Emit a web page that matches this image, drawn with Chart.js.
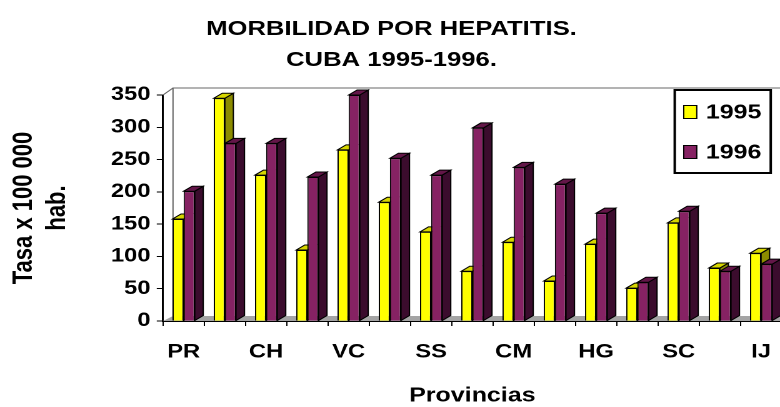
<!DOCTYPE html>
<html>
<head>
<meta charset="utf-8">
<script src="https://cdn.jsdelivr.net/npm/chart.js@4/dist/chart.umd.min.js"></script>
<style>
  html, body { margin: 0; padding: 0; background: #fff; overflow: hidden; }
  /* the original picture is stretched sideways, so the chart is drawn narrow and widened */
  #wrap { width: 632px; height: 407px; transform: scaleX(1.25); transform-origin: 0 0; }
</style>
</head>
<body>
<div id="wrap"><canvas id="chart" width="632" height="407"></canvas></div>
<script>
const provincias = ['PR', 'LH', 'CH', 'MT', 'VC', 'CF', 'SS', 'CA', 'CM', 'LT', 'HG', 'GR', 'SC', 'GT', 'IJ'];
const tasa1995   = [158, 345, 226, 110, 265, 184, 138, 77, 122, 62, 119, 51, 152, 82, 105];
const tasa1996   = [201, 275, 275, 223, 350, 252, 226, 299, 238, 212, 167, 60, 170, 77, 88];
const anios      = ['1995', '1996'];
const titulo     = ['MORBILIDAD POR HEPATITIS.', 'CUBA 1995-1996.'];

const FONT = '"Liberation Sans", Arial, sans-serif';
const DX = 6.8, DY = 5;   // depth of the 3d columns

function poly(ctx, pts, fill) {
    ctx.beginPath();
    ctx.moveTo(pts[0][0], pts[0][1]);
    for (let i = 1; i < pts.length; i++) ctx.lineTo(pts[i][0], pts[i][1]);
    ctx.closePath();
    ctx.fillStyle = fill;
    ctx.fill();
    ctx.stroke();
}

// floor, back wall and the side / top faces of every column
const caras3d = {
    id: 'caras3d',
    beforeDatasetsDraw(chart) {
        const { ctx, chartArea: a } = chart;
        ctx.save();
        ctx.fillStyle = '#a4a4a4';
        ctx.beginPath();
        ctx.moveTo(a.left, a.bottom);
        ctx.lineTo(a.left + 8, a.bottom - 5);
        ctx.lineTo(a.right + 20, a.bottom - 5);
        ctx.lineTo(a.right, a.bottom);
        ctx.closePath();
        ctx.fill();

        ctx.strokeStyle = '#666';
        ctx.lineWidth = 1;
        ctx.beginPath();
        ctx.moveTo(a.left + 8, a.bottom - 5);
        ctx.lineTo(a.left + 8, a.top - 7);
        ctx.lineTo(a.right + 20, a.top - 7);
        ctx.moveTo(a.left, a.top);
        ctx.lineTo(a.left + 8, a.top - 7);
        ctx.stroke();

        ctx.strokeStyle = '#000';
        chart.data.datasets.forEach((ds, di) => {
            chart.getDatasetMeta(di).data.forEach(bar => {
                const { x, y, base, width } = bar.getProps(['x', 'y', 'base', 'width'], true);
                const x0 = x - width / 2, x1 = x + width / 2;
                poly(ctx, [[x1, y], [x1 + DX, y - DY], [x1 + DX, base - DY], [x1, base]], ds.sideColor);
                poly(ctx, [[x0, y], [x0 + DX, y - DY], [x1 + DX, y - DY], [x1, y]], ds.topColor);
            });
        });
        ctx.restore();
    }
};

// boxed legend inside the plot, top right
const leyenda = {
    id: 'leyenda',
    afterDraw(chart) {
        const { ctx, chartArea: a } = chart;
        const left = a.right - 85.6, top = a.top - 5;
        ctx.save();
        ctx.fillStyle = '#fff';
        ctx.fillRect(left, top, 76.8, 83);
        ctx.strokeStyle = '#000';
        ctx.lineWidth = 2;
        ctx.strokeRect(left, top, 76.8, 83);
        ctx.lineWidth = 1;
        ctx.font = 'bold 20px ' + FONT;
        ctx.textBaseline = 'middle';
        chart.data.datasets.forEach((ds, i) => {
            const cy = top + 22 + i * 40;
            ctx.fillStyle = ds.backgroundColor;
            ctx.fillRect(left + 7.2, cy - 6.5, 10.4, 13);
            ctx.strokeRect(left + 7.2, cy - 6.5, 10.4, 13);
            ctx.fillStyle = '#000';
            ctx.fillText(ds.label, left + 24.8, cy + 1);
        });
        ctx.restore();
    }
};

new Chart(document.getElementById('chart'), {
    type: 'bar',
    data: {
        labels: provincias,
        datasets: [
            {
                label: anios[0],
                data: tasa1995,
                backgroundColor: '#ffff00',
                sideColor: '#8c8c00',
                topColor: '#d6d600',
                borderColor: '#000',
                borderWidth: 1
            },
            {
                label: anios[1],
                data: tasa1996,
                backgroundColor: '#862263',
                sideColor: '#3b0c2d',
                topColor: '#631648',
                borderColor: '#000',
                borderWidth: 1
            }
        ]
    },
    options: {
        responsive: false,
        animation: false,
        devicePixelRatio: 2,
        categoryPercentage: 0.54,
        barPercentage: 1,
        layout: { padding: { left: 0, right: 5.6, top: 0, bottom: 0 } },
        plugins: {
            legend: { display: false },
            tooltip: { enabled: false },
            title: {
                display: true,
                text: titulo,
                color: '#000',
                font: { family: FONT, size: 20.5, weight: 'bold', lineHeight: 1.5 },
                padding: { top: 14, bottom: 19.5 }
            }
        },
        scales: {
            x: {
                afterFit(scale) { scale.height = 86; },
                grid: { drawOnChartArea: false, color: '#000', tickLength: 5 },
                border: { color: '#000', width: 1.5 },
                ticks: {
                    color: '#000',
                    font: { family: FONT, size: 19, weight: 'bold' },
                    padding: 15,
                    autoSkip: false,
                    maxRotation: 0,
                    callback: (v, i) => i % 2 === 0 ? provincias[i] : ''
                },
                title: {
                    display: true,
                    text: 'Provincias',
                    color: '#000',
                    font: { family: FONT, size: 20, weight: 'bold', lineHeight: 1 },
                    padding: { top: 0, bottom: 1 }
                }
            },
            y: {
                min: 0,
                max: 350,
                afterFit(scale) { scale.width = 130.4; },
                grid: { drawOnChartArea: false, color: '#000', tickLength: 5 },
                border: { color: '#000', width: 1.5 },
                ticks: {
                    stepSize: 50,
                    color: '#000',
                    font: { family: FONT, size: 19, weight: 'bold' },
                    padding: 5
                },
                title: {
                    display: true,
                    text: ['Tasa x 100 000', 'hab.'],
                    color: '#000',
                    font: { family: FONT, size: 22, weight: 'bold', lineHeight: 1.218 },
                    padding: { top: 5.8, bottom: 0 }
                }
            }
        }
    },
    plugins: [caras3d, leyenda]
});
</script>
</body>
</html>
